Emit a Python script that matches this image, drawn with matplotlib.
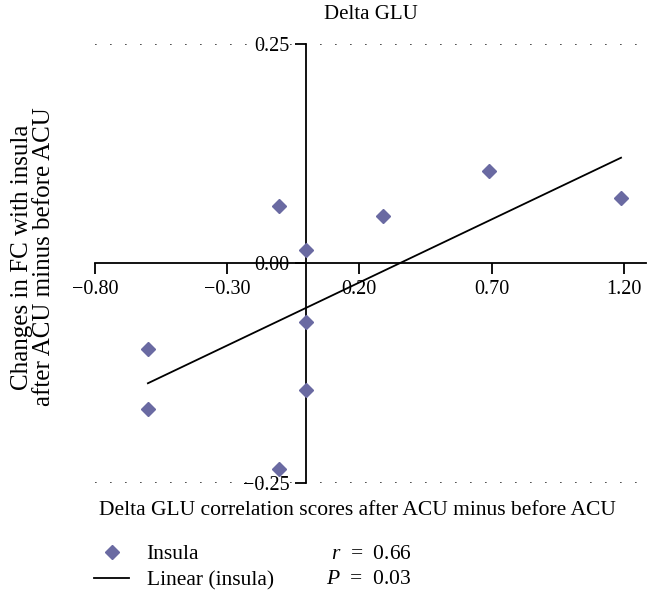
import numpy as np
import matplotlib.pyplot as plt

plt.rcParams['font.family'] = ['Liberation Serif', 'DejaVu Serif']
plt.rcParams['mathtext.fontset'] = 'custom'
plt.rcParams['mathtext.rm'] = 'Liberation Serif'
plt.rcParams['mathtext.it'] = 'Liberation Serif:italic'

# data
glu_delta = [-0.105, 0.0, 0.0, -0.60, -0.60, 0.0, -0.105, 0.29, 0.69, 1.19]
fc_delta = [0.065, 0.015, -0.067, -0.097, -0.166, -0.144, -0.234, 0.054, 0.105, 0.074]
xticks = [-0.80, -0.30, 0.20, 0.70, 1.20]
xtick_labels = ['\u22120.80', '\u22120.30', '0.20', '0.70', '1.20']
yticks = [-0.25, 0.00, 0.25]
ytick_labels = ['\u22120.25', '0.00', '0.25']
r_text = '$r$  =  0.66'
p_text = '$P$  =  0.03'

col = '#6a6aa2'

fig = plt.figure(figsize=(6.6, 6.09), dpi=100)
ax = fig.add_axes([0.144, 0.207, 0.835, 0.721])

x = np.array(glu_delta)
y = np.array(fc_delta)
slope, icpt = np.polyfit(x, y, 1)
xl = np.array([x.min(), x.max()])

pts, = ax.plot(x, y, 'D', color=col, markersize=7, linestyle='none', zorder=3)
fit, = ax.plot(xl, slope * xl + icpt, color='black', lw=1.3, zorder=2)

ax.set_xlim(-0.80, 1.285)
ax.set_ylim(-0.25, 0.25)
ax.spines['left'].set_position(('data', 0))
ax.spines['bottom'].set_position(('data', 0))
ax.spines['top'].set_visible(False)
ax.spines['right'].set_visible(False)
for s in ['left', 'bottom']:
    ax.spines[s].set_linewidth(1.3)

ax.set_xticks(xticks)
ax.set_xticklabels(xtick_labels, fontsize=14.5)
ax.set_yticks(yticks)
ax.set_yticklabels(ytick_labels, fontsize=14.5)
ax.tick_params(axis='x', direction='out', length=8, width=1.3, pad=4)
ax.tick_params(axis='y', direction='out', length=8, width=1.3, pad=4)

for yy in [-0.25, 0.25]:
    ax.axhline(yy, color='#333333', lw=1.2, linestyle=(0, (1, 8)), zorder=1)

ax.set_title('Delta GLU', fontsize=15, pad=18)

fig.text(0.05, 0.578, 'Changes in FC with insula\nafter ACU minus before ACU',
         rotation=90, ha='center', va='center', fontsize=18, linespacing=1.05)
fig.text(0.542, 0.162, 'Delta GLU correlation scores after ACU minus before ACU',
         ha='center', va='center', fontsize=15.5)

fig.legend([pts, fit], ['Insula', 'Linear (insula)'], loc='upper left',
           bbox_to_anchor=(0.126, 0.124), frameon=False, fontsize=15.5,
           handlelength=1.65, handletextpad=0.8, labelspacing=0.28, borderpad=0)
fig.text(0.624, 0.090, r_text, ha='right', va='center', fontsize=15.5)
fig.text(0.624, 0.049, p_text, ha='right', va='center', fontsize=15.5)

fig.savefig('out.png', dpi=100)
